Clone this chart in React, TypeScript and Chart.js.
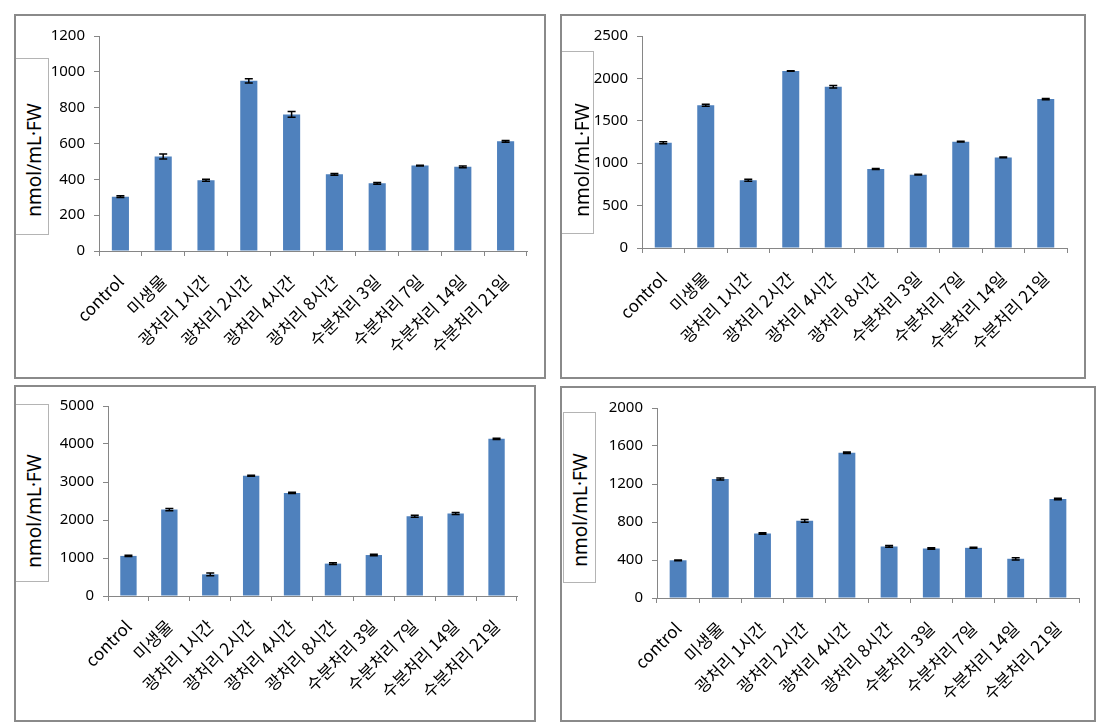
import React, { useEffect, useRef } from "react";
import { Chart, registerables } from "chart.js";

Chart.register(...registerables);

// ---------- data ----------
const categories = [
  "control",
  "미생물",
  "광처리 1시간",
  "광처리 2시간",
  "광처리 4시간",
  "광처리 8시간",
  "수분처리 3일",
  "수분처리 7일",
  "수분처리 14일",
  "수분처리 21일",
];

const yAxisTitle = "nmol/mL·FW";

const valuesA = [303, 528, 395, 950, 762, 428, 378, 477, 470, 612];
const errorsA = [5, 14, 5, 12, 16, 5, 5, 2, 5, 5];
const maxA = 1200;
const stepA = 200;

const valuesB = [1242, 1684, 800, 2087, 1902, 932, 865, 1254, 1068, 1756];
const errorsB = [12, 12, 12, 4, 14, 5, 4, 5, 4, 8];
const maxB = 2500;
const stepB = 500;

const valuesC = [1055, 2275, 570, 3165, 2712, 852, 1078, 2100, 2170, 4135];
const errorsC = [15, 30, 35, 12, 15, 20, 20, 25, 25, 15];
const maxC = 5000;
const stepC = 1000;

const valuesD = [397, 1253, 680, 812, 1530, 543, 521, 528, 413, 1043];
const errorsD = [4, 10, 8, 14, 8, 10, 8, 5, 12, 8];
const maxD = 2000;
const stepD = 400;

// ---------- styling ----------
const BAR_COLOR = "#4F81BD";
const AXIS_COLOR = "#868686";
const PANEL_BORDER = "#8a8a8a";
const BOX_BORDER = "#b4b4b4";
const BORDER = 2;
const Y_SCALE_WIDTH = 60;
const FONT_FAMILY = '"Noto Sans", "Noto Sans CJK KR", sans-serif';
const CJK_FAMILY = '"Noto Sans CJK KR", "Noto Sans", sans-serif';

type Rect = { left: number; top: number; width: number; height: number };
type Area = { left: number; top: number; right: number; bottom: number };
type Box = {
  left: number;
  top: number;
  width: number;
  height: number;
  noLeft?: boolean;
  textX: number;
  textY: number;
};

function makeErrorBars(errors: number[]) {
  return {
    id: "errorBars",
    afterDatasetsDraw(chart: any) {
      const ctx = chart.ctx as CanvasRenderingContext2D;
      const meta = chart.getDatasetMeta(0);
      const yScale = chart.scales.y;
      const data = chart.data.datasets[0].data as number[];
      ctx.save();
      ctx.strokeStyle = "#000";
      ctx.lineWidth = 1.5;
      meta.data.forEach((bar: any, i: number) => {
        const v = data[i];
        const e = errors[i];
        const yTop = yScale.getPixelForValue(v + e);
        const yBot = yScale.getPixelForValue(v - e);
        const x = bar.x;
        const cap = 4;
        ctx.beginPath();
        ctx.moveTo(x, yTop);
        ctx.lineTo(x, yBot);
        ctx.moveTo(x - cap, yTop);
        ctx.lineTo(x + cap, yTop);
        ctx.moveTo(x - cap, yBot);
        ctx.lineTo(x + cap, yBot);
        ctx.stroke();
      });
      ctx.restore();
    },
  };
}

type PanelProps = {
  rect: Rect;
  area: Area;
  box: Box;
  values: number[];
  errors: number[];
  max: number;
  step: number;
};

function Panel({ rect, area, box, values, errors, max, step }: PanelProps) {
  const ref = useRef<HTMLCanvasElement | null>(null);
  const cw = rect.width - 2 * BORDER;
  const ch = rect.height - 2 * BORDER;

  useEffect(() => {
    const canvas = ref.current;
    if (!canvas) return;
    const ox = rect.left + BORDER;
    const oy = rect.top + BORDER;
    const L = area.left - ox;
    const R = area.right - ox;
    const T = area.top - oy;
    const B = area.bottom - oy;
    const xHeight = ch - B;

    const chart = new Chart(canvas, {
      type: "bar",
      data: {
        labels: categories,
        datasets: [
          {
            data: values,
            backgroundColor: BAR_COLOR,
            borderWidth: 0,
            barPercentage: 0.4,
            categoryPercentage: 1,
          },
        ],
      },
      options: {
        animation: false,
        responsive: false,
        maintainAspectRatio: false,
        layout: {
          padding: { left: L - Y_SCALE_WIDTH, right: cw - R, top: T, bottom: 0 },
        },
        plugins: {
          legend: { display: false },
          tooltip: { enabled: false },
        },
        scales: {
          x: {
            offset: true,
            grid: {
              offset: true,
              drawOnChartArea: false,
              drawTicks: true,
              tickLength: 5,
              color: AXIS_COLOR,
            },
            border: { display: true, color: AXIS_COLOR, width: 1 },
            ticks: {
              autoSkip: false,
              maxRotation: 45,
              minRotation: 45,
              padding: 15,
              color: "#000",
              font: { family: CJK_FAMILY, size: 17 },
            },
            afterFit: (s: any) => {
              s.height = xHeight;
            },
          },
          y: {
            min: 0,
            max,
            ticks: {
              stepSize: step,
              padding: 9,
              color: "#000",
              font: { family: FONT_FAMILY, size: 15 },
              callback: (v: any) => String(v),
            },
            grid: {
              drawOnChartArea: false,
              drawTicks: true,
              tickLength: 5,
              color: AXIS_COLOR,
            },
            border: { display: true, color: AXIS_COLOR, width: 1 },
            afterFit: (s: any) => {
              s.width = Y_SCALE_WIDTH;
            },
          },
        },
      } as any,
      plugins: [makeErrorBars(errors) as any],
    });
    return () => chart.destroy();
  }, []);

  return (
    <>
      <div
        style={{
          position: "absolute",
          left: rect.left,
          top: rect.top,
          width: rect.width,
          height: rect.height,
          boxSizing: "border-box",
          border: `${BORDER}px solid ${PANEL_BORDER}`,
          background: "#fff",
        }}
      >
        <canvas
          ref={ref}
          width={cw}
          height={ch}
          style={{ display: "block", width: cw, height: ch }}
        />
      </div>
      <div
        style={{
          position: "absolute",
          left: box.left,
          top: box.top,
          width: box.width,
          height: box.height,
          boxSizing: "border-box",
          border: `1px solid ${BOX_BORDER}`,
          borderLeft: box.noLeft ? "none" : `1px solid ${BOX_BORDER}`,
          background: "#fff",
        }}
      />
      <div
        style={{
          position: "absolute",
          left: box.textX,
          top: box.textY,
          width: 0,
          height: 0,
          overflow: "visible",
        }}
      >
        <span
          style={{
            position: "absolute",
            left: 0,
            top: 0,
            transform: "translate(-50%, -50%) rotate(-90deg)",
            whiteSpace: "nowrap",
            fontFamily: FONT_FAMILY,
            fontSize: 19,
            color: "#000",
            lineHeight: 1,
          }}
        >
          {yAxisTitle}
        </span>
      </div>
    </>
  );
}

export default function App() {
  return (
    <div
      style={{
        position: "absolute",
        left: 0,
        top: 0,
        width: 1116,
        height: 724,
        background: "#fff",
        overflow: "hidden",
      }}
    >
      <Panel
        rect={{ left: 14, top: 14, width: 532, height: 365 }}
        area={{ left: 99, top: 36, right: 527, bottom: 251 }}
        box={{ left: 16, top: 58, width: 33, height: 177, noLeft: true, textX: 34, textY: 160 }}
        values={valuesA}
        errors={errorsA}
        max={maxA}
        step={stepA}
      />
      <Panel
        rect={{ left: 560, top: 14, width: 526, height: 365 }}
        area={{ left: 642, top: 36, right: 1067, bottom: 248 }}
        box={{ left: 562, top: 51, width: 32, height: 183, noLeft: true, textX: 582, textY: 160 }}
        values={valuesB}
        errors={errorsB}
        max={maxB}
        step={stepB}
      />
      <Panel
        rect={{ left: 14, top: 385, width: 522, height: 337 }}
        area={{ left: 108, top: 406, right: 517, bottom: 596 }}
        box={{ left: 16, top: 404, width: 33, height: 178, noLeft: true, textX: 34, textY: 511 }}
        values={valuesC}
        errors={errorsC}
        max={maxC}
        step={stepC}
      />
      <Panel
        rect={{ left: 560, top: 386, width: 536, height: 336 }}
        area={{ left: 657, top: 408, right: 1079, bottom: 598 }}
        box={{ left: 563, top: 412, width: 33, height: 171, textX: 580, textY: 510 }}
        values={valuesD}
        errors={errorsD}
        max={maxD}
        step={stepD}
      />
    </div>
  );
}
